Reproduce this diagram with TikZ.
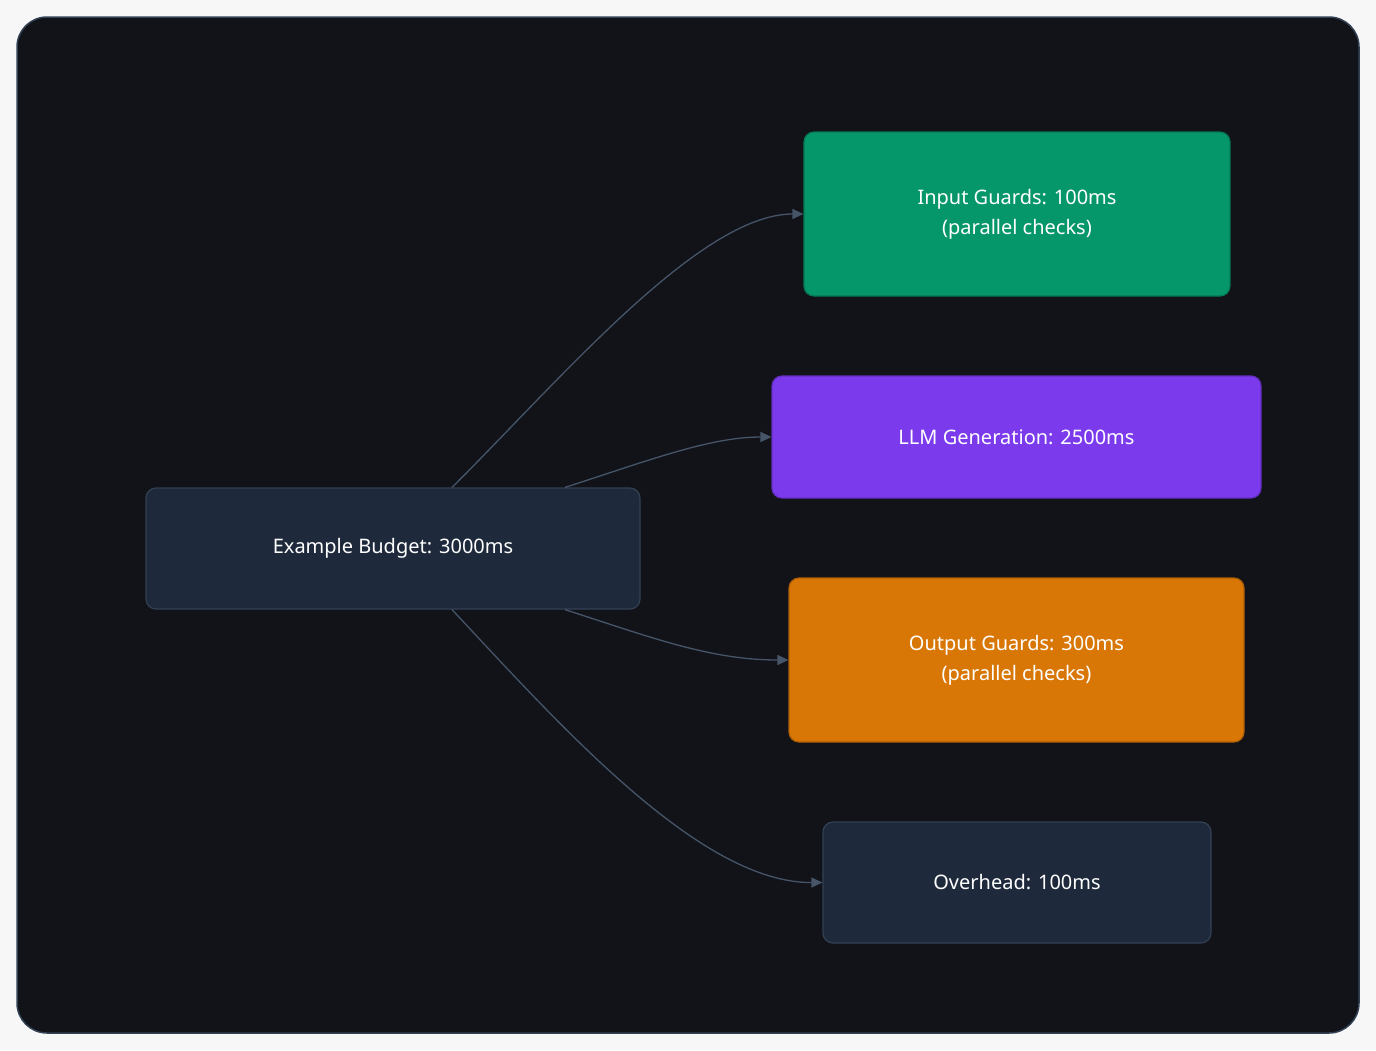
\documentclass[tikz,border=0pt]{standalone}
\usepackage{fontspec}
\setmainfont{Noto Sans}
\usetikzlibrary{arrows.meta}
\definecolor{bgout}{HTML}{F7F7F8}
\definecolor{panel}{HTML}{111318}
\definecolor{slate}{HTML}{1E293B}
\definecolor{slateb}{HTML}{334155}
\definecolor{edge}{HTML}{475569}
\definecolor{grn}{HTML}{059669}
\definecolor{prp}{HTML}{7C3AED}
\definecolor{org}{HTML}{D97706}
\begin{document}
\begin{tikzpicture}[x=1pt,y=-1pt,
  box/.style={draw, line width=1.2pt, rounded corners=10pt, text=white, align=center, font=\fontsize{20}{30}\selectfont, inner sep=0pt},
  conn/.style={draw=edge, line width=1.3pt, -{Triangle[length=11pt,width=10pt]}}]
\useasboundingbox (0,0) rectangle (1376,1050);
\fill[bgout] (0,0) rectangle (1376,1050);
\draw[fill=panel, draw=slateb, line width=1.5pt, rounded corners=30pt] (17,17) rectangle (1359,1033);
\node[box, fill=slate, draw=slateb, minimum width=494pt, minimum height=121pt] (b) at (393,548.5) {Example Budget: 3000ms};
\node[box, fill=grn, draw=grn!80!black, minimum width=426pt, minimum height=164pt] (i) at (1017,214) {Input Guards: 100ms\\(parallel checks)};
\node[box, fill=prp, draw=prp!80!black, minimum width=489pt, minimum height=122pt] (l) at (1016.5,437) {LLM Generation: 2500ms};
\node[box, fill=org, draw=org!80!black, minimum width=455pt, minimum height=164pt] (o) at (1016.5,660) {Output Guards: 300ms\\(parallel checks)};
\node[box, fill=slate, draw=slateb, minimum width=388pt, minimum height=121pt] (v) at (1017,882.5) {Overhead: 100ms};
\draw[conn] ([xshift=59pt]b.north) .. controls (560,380) and (700,214) .. (i.west);
\draw[conn] ([xshift=172pt]b.north) .. controls (650,460) and (710,437) .. (l.west);
\draw[conn] ([xshift=172pt]b.south) .. controls (650,637) and (710,660) .. (o.west);
\draw[conn] ([xshift=59pt]b.south) .. controls (560,725) and (700,883) .. (v.west);
\end{tikzpicture}
\end{document}
